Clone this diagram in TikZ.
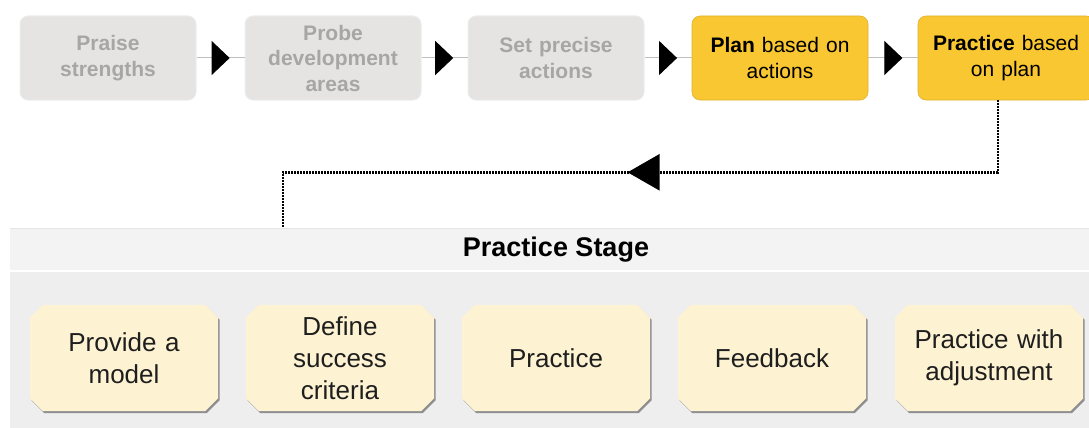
\documentclass[tikz,border=0pt]{standalone}
\usepackage{fontspec}
\setmainfont{Liberation Sans}
\usetikzlibrary{arrows.meta,decorations.markings,shapes.misc,shadows}

\definecolor{greybox}{HTML}{E6E4E3}
\definecolor{greytext}{HTML}{A6A6A6}
\definecolor{goldbox}{HTML}{F9C732}
\definecolor{creambox}{HTML}{FDF2D2}
\definecolor{panelgrey}{HTML}{EEEEEE}
\definecolor{headgrey}{HTML}{F3F3F3}
\definecolor{cardtext}{HTML}{1E1E1E}

\tikzset{
  topbox/.style={rounded corners=8pt, minimum width=176pt, minimum height=84pt,
    inner sep=0pt, text width=172pt, align=center,
    font=\fontsize{21}{25.5}\selectfont},
  donebox/.style={topbox, fill=greybox, draw=black!7, line width=1pt, text=greytext,
    font=\fontsize{21}{25.5}\selectfont\bfseries},
  nowbox/.style={topbox, fill=goldbox, draw=goldbox!90!black, line width=0.6pt},
  stepcard/.style={chamfered rectangle, chamfered rectangle xsep=9pt,
    minimum width=178pt, minimum height=106pt, inner sep=0pt,
    text width=170pt, align=center, fill=creambox, text=cardtext,
    font=\fontsize{26}{32}\selectfont,
    drop shadow={shadow xshift=1.5pt, shadow yshift=-2pt, fill=black!60, opacity=0.7}},
  link/.style={draw=black!25, line width=1pt, postaction={decorate},
    decoration={markings, mark=at position 0.69 with {\arrow{Triangle[length=18pt,width=34pt,color=black]}}}},
  backlink/.style={draw=black, line width=2.6pt, dash pattern=on 1.6pt off 1.4pt,
    postaction={decorate},
    decoration={markings, mark=at position 0.525 with {\arrow{Triangle[length=32pt,width=36pt,color=black]}}}}
}

\begin{document}
\begin{tikzpicture}[x=1pt,y=-1pt]
\useasboundingbox (0,0) rectangle (1089,428);
% panel of the practice stage
\fill[panelgrey] (10,270) rectangle (1095,428);
\fill[headgrey] (10,228) rectangle (1095,270);
\draw[black!10] (10,228) -- (1095,228);
\draw[white, line width=2pt] (10,271) -- (1095,271);
\node[font=\fontsize{27}{32}\selectfont\bfseries] (stage) at (556,250) {Practice Stage};

% the five steps
\node[donebox] (praise) at (108,58) {Praise\\strengths};
\node[donebox] (probe) at (333,58) {Probe\\development\\areas};
\node[donebox] (actions) at (556,58) {Set precise\\actions};
\node[nowbox] (plan) at (780,58) {\textbf{Plan} based on\\actions};
\node[nowbox] (practice) at (1006,58) {\textbf{Practice} based\\on plan};

\draw[link] (praise) -- (probe);
\draw[link] (probe) -- (actions);
\draw[link] (actions) -- (plan);
\draw[link] (plan) -- (practice);

% back to the practice stage
\coordinate (entry) at (283,228);
\draw[backlink] ([xshift=-8pt]practice.south) -- ++(0,72) -| (entry);

% the practice stage
\node[stepcard] (model) at (124,358) {Provide a\\model};
\node[stepcard] (criteria) at (340,358) {Define\\success\\criteria};
\node[stepcard] (try) at (556,358) {Practice};
\node[stepcard] (feedback) at (772,358) {Feedback};
\node[stepcard] (adjust) at (989,358) {Practice with\\adjustment};

\end{tikzpicture}
\end{document}
